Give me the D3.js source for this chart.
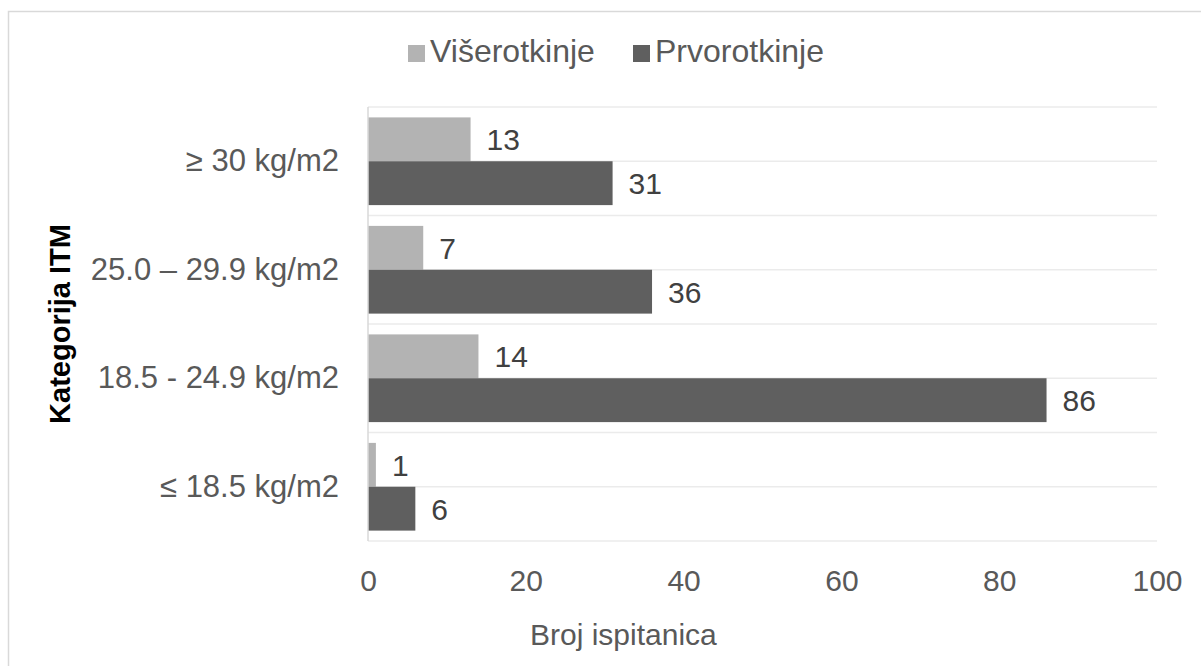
<!DOCTYPE html>
<html><head><meta charset="utf-8">
<script src="https://cdn.jsdelivr.net/npm/d3@7"></script>
<style>body{margin:0;background:#fff}svg{display:block}</style>
</head><body>
<svg id="c" width="1201" height="666"></svg>
<script>
const categories = ["≥ 30 kg/m2", "25.0 – 29.9 kg/m2", "18.5 - 24.9 kg/m2", "≤ 18.5 kg/m2"];
const seriesNames = ["Višerotkinje", "Prvorotkinje"];
const viserotkinje = [13, 7, 14, 1];
const prvorotkinje = [31, 36, 86, 6];
const xTicks = [0, 20, 40, 60, 80, 100];
const colors = ["#b3b3b3", "#5f5f5f"];

const svg = d3.select("#c");
const font = "'Liberation Sans', Arial, sans-serif";
const pLeft = 368, pRight = 1157, pTop = 107, pBottom = 541;

svg.append("rect").attr("x", 8.5).attr("y", 11.5).attr("width", 1250).attr("height", 700)
  .attr("fill", "#fff").attr("stroke", "#d9d9d9").attr("stroke-width", 1.5);

const x = d3.scaleLinear().domain([0, 100]).range([pLeft, pRight]);
const y = d3.scaleBand().domain(categories).range([pTop, pBottom]).paddingInner(0).paddingOuter(0);
const inner = d3.scaleBand().domain(seriesNames).range([0, y.bandwidth()]).paddingInner(0).paddingOuter(0.237);

// gridlines at category boundaries and centers
const gridY = [];
categories.forEach(c => { gridY.push(y(c)); gridY.push(y(c) + y.bandwidth() / 2); });
gridY.push(pBottom);
svg.append("g").selectAll("line").data(gridY).join("line")
  .attr("x1", pLeft).attr("x2", pRight).attr("y1", d => d).attr("y2", d => d)
  .attr("stroke", "#ebebeb").attr("stroke-width", 1.5);

// bars
const data = [];
categories.forEach((c, i) => {
  data.push({cat: c, s: seriesNames[0], v: viserotkinje[i], col: colors[0]});
  data.push({cat: c, s: seriesNames[1], v: prvorotkinje[i], col: colors[1]});
});
svg.append("g").selectAll("rect").data(data).join("rect")
  .attr("x", x(0)).attr("y", d => y(d.cat) + inner(d.s))
  .attr("width", d => x(d.v) - x(0)).attr("height", inner.bandwidth())
  .attr("fill", d => d.col);

svg.append("g").selectAll("text").data(data).join("text")
  .attr("x", d => x(d.v) + 16).attr("y", d => y(d.cat) + inner(d.s) + inner.bandwidth() / 2 + 11)
  .attr("font-family", font).attr("font-size", 30).attr("fill", "#404040")
  .text(d => d.v);

// y axis line
svg.append("line").attr("x1", pLeft).attr("x2", pLeft).attr("y1", pTop).attr("y2", pBottom)
  .attr("stroke", "#d9d9d9").attr("stroke-width", 1.5);

// category labels
svg.append("g").selectAll("text").data(categories).join("text")
  .attr("x", 339).attr("y", d => y(d) + y.bandwidth() / 2 + 10)
  .attr("text-anchor", "end").attr("font-family", font).attr("font-size", 31).attr("fill", "#595959")
  .text(d => d);

// x tick labels
const xAxis = d3.axisBottom(x).tickValues(xTicks).tickSize(0).tickPadding(0);
const gx = svg.append("g").attr("transform", `translate(0,${pBottom})`).call(xAxis);
gx.select(".domain").remove();
gx.selectAll("text").attr("font-family", font).attr("font-size", 30).attr("fill", "#595959")
  .attr("dy", null).attr("y", 50);

// axis titles
svg.append("text").attr("x", 530).attr("y", 645).attr("text-anchor", "start")
  .attr("font-family", font).attr("font-size", 30).attr("fill", "#595959").text("Broj ispitanica");
svg.append("text").attr("transform", `translate(70,${(pTop + pBottom) / 2}) rotate(-90)`)
  .attr("text-anchor", "middle").attr("font-family", font).attr("font-size", 29).attr("font-weight", "bold")
  .attr("fill", "#000").text("Kategorija ITM");

// legend
const legend = [{name: seriesNames[0], col: colors[0], x: 408}, {name: seriesNames[1], col: colors[1], x: 633}];
const lg = svg.append("g").selectAll("g").data(legend).join("g");
lg.append("rect").attr("x", d => d.x).attr("y", 45).attr("width", 17).attr("height", 17).attr("fill", d => d.col);
lg.append("text").attr("x", d => d.x + 22).attr("y", 62).attr("font-family", font).attr("font-size", 32)
  .attr("fill", "#595959").text(d => d.name);
</script>
</body></html>
